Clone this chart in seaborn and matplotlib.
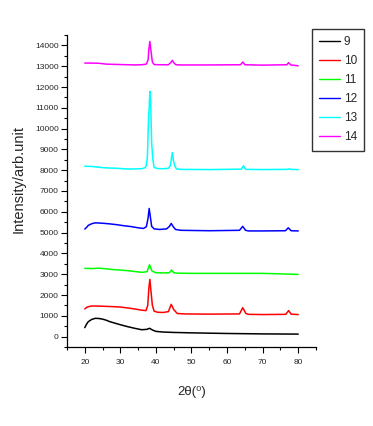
import pandas as pd
import numpy as np
import seaborn as sns
import matplotlib.pyplot as plt
from matplotlib.ticker import MultipleLocator

sns.set_style("ticks")
plt.rcParams['font.family'] = ['Liberation Sans', 'DejaVu Sans']

# values (2theta in degrees, intensity in arb. units)
x9 = [20, 20.5, 21, 22, 23, 24, 25, 26, 27, 28, 30, 32, 34, 36, 37.5, 38.2, 39, 40, 42, 45, 50, 55, 60, 65, 70, 75, 80]
y9 = [430, 600, 720, 830, 880, 870, 840, 790, 720, 670, 570, 480, 400, 330, 350, 400, 320, 250, 220, 200, 180, 165, 150, 140, 130, 125, 120]

x10 = [20, 20.5, 21, 22, 23, 25, 28, 30, 32, 34, 36, 37.2, 37.7, 38.0, 38.3, 38.6, 39.0, 39.5, 40.5, 42, 43.5, 44.3, 45, 46, 48, 55,
       63.5, 64.4, 65.3, 66, 70, 76.5, 77.3, 78, 80]
y10 = [1330, 1400, 1440, 1470, 1470, 1460, 1440, 1420, 1380, 1330, 1270, 1250, 1500, 2300, 2750, 2200, 1500, 1220, 1170, 1160, 1200, 1550, 1300, 1110, 1090, 1080,
       1090, 1390, 1110, 1070, 1060, 1070, 1250, 1080, 1060]

x11 = [20, 22, 24, 26, 28, 30, 32, 34, 36, 37.5, 38.2, 38.9, 40, 42, 43.8, 44.4, 45, 46, 50, 60, 70, 80]
y11 = [3280, 3270, 3290, 3260, 3220, 3200, 3170, 3130, 3090, 3120, 3455, 3150, 3070, 3060, 3070, 3200, 3070, 3050, 3040, 3040, 3040, 2990]

x12 = [20, 20.5, 21, 22, 23, 25, 27, 29, 31, 33, 35, 36.5, 37.3, 37.8, 38.1, 38.4, 38.8, 39.5, 41, 43, 43.8, 44.3, 44.8, 45.5, 47, 55,
       63.5, 64.4, 65.2, 66, 70, 76.4, 77.2, 78, 80]
y12 = [5170, 5250, 5350, 5430, 5470, 5450, 5420, 5380, 5330, 5290, 5230, 5200, 5280, 5700, 6160, 5800, 5300, 5180, 5150, 5180, 5300, 5440, 5300, 5150, 5110, 5090,
       5110, 5300, 5110, 5080, 5080, 5090, 5230, 5090, 5080]

x13 = [20, 22, 24, 26, 28, 30, 32, 34, 36, 37.0, 37.3, 37.6, 37.9, 38.1, 38.3, 38.5, 38.8, 39.1, 39.5, 40.5, 42, 43.5, 44.0, 44.3, 44.6,
       44.9, 45.3, 45.8, 47, 55, 64.0, 64.6, 65.2, 70, 76.8, 77.4, 78, 80]
y13 = [8190, 8180, 8140, 8110, 8100, 8080, 8060, 8060, 8070, 8120, 8240, 8640, 10350, 11000, 11790, 11390, 9310, 8560, 8130, 8080, 8070, 8090, 8200, 8490, 8850,
       8490, 8200, 8060, 8040, 8030, 8050, 8210, 8040, 8030, 8040, 8060, 8040, 8030]

x14 = [20, 22, 24, 26, 28, 30, 32, 34, 36, 37.3, 37.8, 38.0, 38.3, 38.6, 39.0, 39.5, 41, 43.5, 44.2, 44.6, 45.0, 45.6, 47, 55,
       63.8, 64.4, 65.0, 70, 76.8, 77.3, 77.9, 80]
y14 = [13150, 13150, 13140, 13100, 13090, 13080, 13070, 13060, 13070, 13100, 13300, 13800, 14190, 13750, 13200, 13080, 13070, 13070, 13180, 13280, 13170, 13070, 13060, 13060,
       13070, 13200, 13070, 13050, 13070, 13170, 13060, 13020]

samples = ['9', '10', '11', '12', '13', '14']
colors = ['#000000', '#ff0000', '#00ff00', '#0000ff', '#00ffff', '#ff00ff']

frames = []
for name, xs, ys in zip(samples, [x9, x10, x11, x12, x13, x14], [y9, y10, y11, y12, y13, y14]):
    frames.append(pd.DataFrame({'two_theta': xs, 'intensity': ys, 'sample': name}))
df = pd.concat(frames, ignore_index=True)

fig = plt.figure(figsize=(3.73, 4.26), dpi=100)
ax = fig.add_axes([67/373, 1 - 347/426, (316 - 67)/373, (347 - 35)/426])

sns.lineplot(data=df, x='two_theta', y='intensity', hue='sample', hue_order=samples,
             palette=colors, estimator=None, linewidth=1.1, ax=ax, legend=True)

ax.set_xlim(15, 85)
ax.set_ylim(-500, 14500)
ax.xaxis.set_major_locator(MultipleLocator(10))
ax.xaxis.set_minor_locator(MultipleLocator(5))
ax.yaxis.set_major_locator(MultipleLocator(1000))
ax.yaxis.set_minor_locator(MultipleLocator(500))
ax.tick_params(which='major', length=4, width=0.8, labelsize=6, color='black', pad=2)
ax.tick_params(axis='x', which='major', pad=5)
ax.tick_params(which='minor', length=2.5, width=0.8, color='black')
for s in ['left', 'bottom']:
    ax.spines[s].set_color('black')
    ax.spines[s].set_linewidth(0.9)
sns.despine(ax=ax)

ax.set_xlabel('2θ(⁰)', fontsize=9.5, labelpad=14)
ax.set_ylabel('Intensity/arb.unit', fontsize=10.5)
ax.yaxis.set_label_coords(-0.165, 0.54)

handles, labels = ax.get_legend_handles_labels()
ax.get_legend().remove()
leg = fig.legend(handles, labels, loc='upper left', bbox_to_anchor=(312/373, 1 - 29/426),
                 fontsize=8.5, frameon=True, fancybox=False, handlelength=1.8,
                 handletextpad=0.3, borderpad=0.6, labelspacing=0.6, borderaxespad=0)
leg.get_frame().set_edgecolor('black')
leg.get_frame().set_linewidth(1.0)
for line in leg.get_lines():
    line.set_linewidth(1.0)

fig.savefig('out.png', dpi=100)
